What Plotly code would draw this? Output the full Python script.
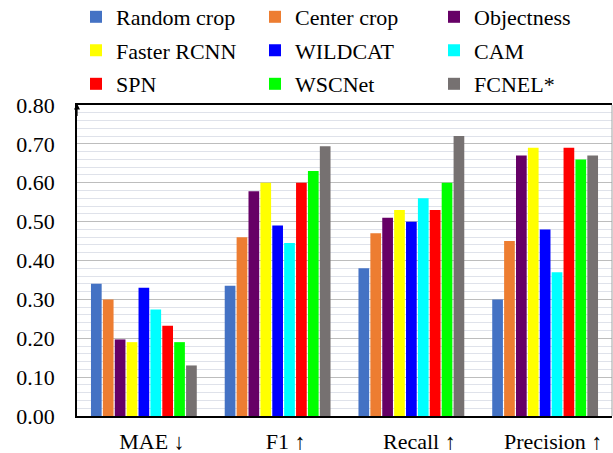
import plotly.graph_objects as go

categories = ["MAE ↓", "F1 ↑", "Recall ↑", "Precision ↑"]
methods = ["Random crop", "Center crop", "Objectness", "Faster RCNN", "WILDCAT",
           "CAM", "SPN", "WSCNet", "FCNEL*"]
random_crop = [0.34, 0.335, 0.38, 0.30]
center_crop = [0.30, 0.46, 0.47, 0.45]
objectness = [0.197, 0.578, 0.51, 0.67]
faster_rcnn = [0.19, 0.60, 0.53, 0.69]
wildcat = [0.33, 0.49, 0.50, 0.48]
cam = [0.274, 0.445, 0.56, 0.37]
spn = [0.232, 0.60, 0.53, 0.69]
wscnet = [0.19, 0.63, 0.60, 0.66]
fcnel = [0.13, 0.694, 0.72, 0.67]
series = [random_crop, center_crop, objectness, faster_rcnn, wildcat, cam, spn, wscnet, fcnel]
colors = ["#4472C4", "#ED7D31", "#660066", "#FFFF00", "#0000FF",
          "#00FFFF", "#FF0000", "#00FF00", "#767171"]
y_ticks = [0.0, 0.1, 0.2, 0.3, 0.4, 0.5, 0.6, 0.7, 0.8]

FONT = "Liberation Serif, Times New Roman, DejaVu Serif, serif"
legend_names = ["legend", "legend2", "legend3"]

fig = go.Figure()
for i, (name, vals, col) in enumerate(zip(methods, series, colors)):
    fig.add_trace(go.Bar(
        name=name, x=categories, y=vals,
        marker=dict(color=col, line=dict(width=0)),
        legend=legend_names[i // 3],
    ))

W, H = 613, 453
L, R, T, B = 77, 1, 105, 37
pw, ph = W - L - R, H - T - B
row_y = [17, 50.5, 84]
for k, ln in enumerate(legend_names):
    fig.update_layout({ln: dict(
        orientation="h", xref="paper", yref="paper",
        x=(76 - L) / pw, xanchor="left",
        y=(H - B - row_y[k]) / ph, yanchor="middle",
        entrywidth=134, entrywidthmode="pixels",
        font=dict(family=FONT, size=22, color="black"),
        bgcolor="rgba(0,0,0,0)", borderwidth=0, itemclick=False,
    )})

fig.update_layout(
    width=W, height=H,
    margin=dict(l=L, r=R, t=T, b=B, autoexpand=False),
    paper_bgcolor="white", plot_bgcolor="white",
    barmode="group", bargap=0.2, bargroupgap=0.1,
    font=dict(family=FONT, size=22, color="black"),
    xaxis=dict(
        showline=True, linecolor="black", linewidth=1.5, mirror=True,
        ticks="", tickfont=dict(family=FONT, size=22, color="black"),
        ticklabelshift=8, ticklabelstandoff=5, showgrid=False,
    ),
    yaxis=dict(
        range=[0, 0.8], tickvals=y_ticks, tickformat=".2f",
        showline=True, linecolor="black", linewidth=1.5,
        ticks="", ticklabelstandoff=16,
        tickfont=dict(family=FONT, size=22, color="black"),
        showgrid=True, gridcolor="#bdbdbd", gridwidth=1,
        minor=dict(dtick=0.02, showgrid=True, gridcolor="#dfe2ea", gridwidth=1),
        zeroline=False,
    ),
    shapes=[dict(type="line", xref="paper", yref="paper", x0=1, x1=1, y0=0, y1=1,
                 line=dict(color="#a0a0a0", width=1))],
    annotations=[dict(xref="paper", yref="paper", x=0, y=1.005, ax=0, ay=14,
                      axref="pixel", ayref="pixel", text="", showarrow=True,
                      arrowhead=2, arrowsize=1, arrowwidth=1.2, arrowcolor="black")],
)

fig.write_html("out.html",
               config={"displayModeBar": False},
               post_script="document.body.style.margin='0';document.body.style.overflow='hidden';")
